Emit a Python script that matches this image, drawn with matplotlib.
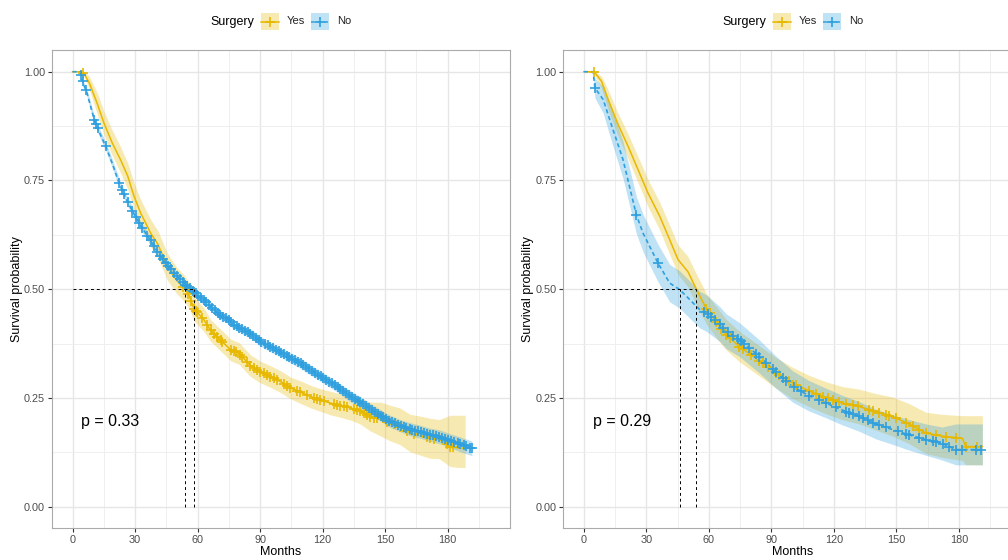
import numpy as np
import matplotlib
matplotlib.use('Agg')
import matplotlib.pyplot as plt
from matplotlib.patches import Rectangle
from matplotlib.lines import Line2D

plt.rcParams['font.family'] = ['Liberation Sans', 'DejaVu Sans']

YEL = '#E7B800'
BLU = '#2E9FDF'

groups = ['Yes', 'No']
legend_title = 'Surgery'
x_ticks = [0, 30, 60, 90, 120, 150, 180]
y_ticks = [0.00, 0.25, 0.50, 0.75, 1.00]
x_label = 'Months'
y_label = 'Survival probability'

# ---------------- Left panel ----------------
L_yes_t = [0, 4.5, 5.6, 8, 12, 15, 19, 23, 26.5, 29.5, 32.7, 37.5, 41, 45.5, 50, 54, 56, 58.3, 63, 66.3,
           69.5, 76, 80, 85.4, 90, 95, 100, 104.6, 110, 114.2, 119, 123.8, 128, 133.4, 138, 142.9, 148,
           152.5, 157, 162.1, 167, 171.7, 176, 181.3, 185, 188.5]
L_yes_s = [1, 1, 0.995, 0.975, 0.925, 0.883, 0.837, 0.798, 0.76, 0.714, 0.675, 0.629, 0.603, 0.552, 0.52,
           0.5, 0.485, 0.455, 0.43, 0.405, 0.39, 0.36, 0.352, 0.324, 0.31, 0.299, 0.287, 0.273, 0.262,
           0.253, 0.245, 0.238, 0.233, 0.227, 0.22, 0.207, 0.2, 0.192, 0.185, 0.169, 0.163, 0.157, 0.155,
           0.138, 0.135, 0.134]
L_yes_hi = [1, 1, 1.0, 0.99, 0.95, 0.91, 0.866, 0.828, 0.79, 0.745, 0.706, 0.66, 0.634, 0.583, 0.55, 0.53,
            0.514, 0.483, 0.457, 0.43, 0.415, 0.385, 0.377, 0.349, 0.335, 0.324, 0.312, 0.298, 0.288,
            0.279, 0.271, 0.265, 0.26, 0.255, 0.25, 0.24, 0.24, 0.233, 0.227, 0.212, 0.208, 0.203, 0.2,
            0.21, 0.21, 0.21]
L_yes_lo = [1, 1, 0.99, 0.96, 0.90, 0.855, 0.808, 0.768, 0.73, 0.683, 0.644, 0.598, 0.572, 0.521, 0.49,
            0.47, 0.456, 0.427, 0.403, 0.38, 0.365, 0.335, 0.327, 0.299, 0.285, 0.274, 0.262, 0.248,
            0.236, 0.227, 0.219, 0.211, 0.206, 0.199, 0.19, 0.174, 0.162, 0.151, 0.143, 0.126, 0.118,
            0.111, 0.11, 0.092, 0.09, 0.09]
L_yes_cens = [5.2, 53.0, 55.5, 57.0, 58.3, 59.1, 59.9, 62.3, 64.7, 66.3, 67.9, 69.5, 71.1, 71.9, 75.9,
              77.4, 78.3, 80.6, 81.5, 83.9, 85.4, 87.0, 88.6, 90.2, 91.8, 93.4, 95.0, 96.6, 98.2, 101.4,
              103.0, 104.6, 107.8, 109.4, 112.6, 115.8, 117.4, 119.0, 120.6, 125.3, 127.0, 128.6, 130.2,
              131.8, 134.9, 136.6, 138.1, 139.7, 141.4, 142.9, 144.5, 146.1, 150.9, 154.1, 157.3, 160.5,
              163.7, 170.1, 171.7, 173.3, 179.7, 181.3, 182.8]

L_no_t = [0, 3.5, 5, 7, 10.4, 12, 15.9, 19, 22.3, 26, 28.7, 32.8, 37.5, 40.8, 43.9, 47, 50.3, 53, 56.7,
          58.5, 61.5, 64.7, 68, 71, 74.3, 77, 80.6, 85.4, 90.2, 95, 99.8, 104.6, 109.4, 114, 119, 124,
          128.6, 133, 138.1, 143, 147.7, 152, 157.3, 162, 166.9, 171, 176.5, 181, 186.1, 191.7]
L_no_s = [1, 1, 0.975, 0.95, 0.89, 0.87, 0.829, 0.79, 0.745, 0.705, 0.68, 0.645, 0.612, 0.585, 0.565,
          0.548, 0.529, 0.515, 0.5, 0.494, 0.48, 0.468, 0.452, 0.44, 0.432, 0.42, 0.41, 0.398, 0.38,
          0.367, 0.355, 0.342, 0.33, 0.315, 0.3, 0.285, 0.27, 0.255, 0.24, 0.224, 0.21, 0.197, 0.186,
          0.178, 0.172, 0.166, 0.16, 0.152, 0.143, 0.134]
L_no_hw = [0, 0, 0.006, 0.008, 0.009, 0.009, 0.010, 0.010, 0.010, 0.010, 0.010, 0.010, 0.010, 0.010,
           0.010, 0.010, 0.010, 0.010, 0.010, 0.010, 0.010, 0.010, 0.010, 0.010, 0.010, 0.011, 0.011,
           0.011, 0.011, 0.011, 0.011, 0.012, 0.012, 0.012, 0.012, 0.012, 0.012, 0.013, 0.013, 0.013,
           0.013, 0.014, 0.014, 0.015, 0.015, 0.015, 0.016, 0.016, 0.017, 0.017]
L_no_cens = [3.9, 4.8, 6.4, 10.4, 11.2, 12.0, 15.9, 22.3, 23.9, 24.7, 26.4, 28.7, 30.3, 31.9, 33.5, 35.9,
             37.5, 39.1, 40.7, 42.1, 43.4, 44.8, 46.0, 47.3, 48.9, 50.2, 51.4, 52.8, 54.1, 55.0, 56.3,
             57.9, 59.2, 60.4, 61.8, 63.1, 64.0, 65.5, 66.9, 68.2, 69.6, 70.8, 72.3, 73.5, 74.9, 76.2,
             77.6, 78.8, 80.1, 81.5, 82.9, 84.0, 85.4, 86.8, 88.1, 89.5, 90.7, 92.2, 93.6, 94.8, 96.1,
             97.5, 98.9, 100.2, 101.6, 102.9, 104.1, 105.5, 106.9, 108.3, 109.6, 110.8, 112.2, 113.7,
             115.0, 116.3, 117.8, 119.1, 120.4, 121.9, 123.2, 124.5, 125.9, 127.3, 128.6, 130.0, 131.4,
             132.7, 134.1, 135.5, 136.8, 138.2, 139.6, 141.0, 142.3, 143.7, 145.1, 146.4, 147.9, 149.2,
             150.6, 152.0, 153.4, 154.7, 156.1, 157.6, 159.0, 160.3, 161.8, 163.1, 164.6, 166.0, 167.4,
             168.9, 170.2, 171.7, 173.1, 174.6, 176.0, 177.5, 178.9, 180.4, 181.8, 183.3, 184.8, 186.2,
             187.7, 189.1, 190.6, 191.7]
L_medians = [54.2, 58.2]
L_pval = 'p = 0.33'

# ---------------- Right panel ----------------
R_yes_t = [0, 4.5, 5.3, 8.5, 11.7, 16.4, 21.2, 26, 30.8, 36.4, 41.2, 45.2, 50, 54, 58.8, 65.2, 68.4,
           74.7, 84.3, 92, 100.3, 108, 116.3, 124, 132.3, 140, 148.2, 156, 164.2, 172, 181.7, 183.3, 191.3]
R_yes_s = [1, 1, 0.998, 0.978, 0.936, 0.879, 0.829, 0.775, 0.721, 0.668, 0.614, 0.568, 0.54, 0.5, 0.455,
           0.414, 0.395, 0.368, 0.335, 0.308, 0.284, 0.266, 0.25, 0.238, 0.23, 0.218, 0.207, 0.19, 0.169,
           0.162, 0.157, 0.138, 0.138]
R_yes_hi = [1, 1, 1, 0.99, 0.958, 0.905, 0.857, 0.805, 0.752, 0.70, 0.647, 0.602, 0.575, 0.535, 0.49,
            0.45, 0.43, 0.403, 0.37, 0.343, 0.32, 0.302, 0.287, 0.276, 0.27, 0.26, 0.252, 0.237, 0.217,
            0.212, 0.209, 0.209, 0.209]
R_yes_lo = [1, 1, 0.99, 0.962, 0.912, 0.853, 0.8, 0.745, 0.69, 0.636, 0.58, 0.534, 0.505, 0.465, 0.42,
            0.378, 0.36, 0.333, 0.3, 0.273, 0.248, 0.23, 0.213, 0.2, 0.19, 0.176, 0.162, 0.145, 0.122,
            0.113, 0.106, 0.096, 0.096]
R_yes_cens = [5.0, 58.8, 60.4, 63.6, 66.0, 68.4, 70.0, 74.7, 76.3, 80.3, 84.3, 85.9, 88.3, 92.3, 93.9,
              98.7, 101.9, 108.3, 111.5, 114.7, 117.1, 119.5, 122.7, 125.9, 129.0, 131.4, 137.0, 138.6,
              141.8, 145.0, 146.6, 149.8, 154.6, 157.8, 161.0, 164.2, 169.0, 173.8, 178.6, 183.4, 188.9]

R_no_t = [0, 4.5, 5.3, 9.3, 14, 18.8, 25.2, 28.4, 30.8, 35.6, 41.2, 46, 50, 55.6, 58.8, 65.2, 68.4, 74.7,
          84.3, 92, 100.3, 108, 116.3, 124, 132.3, 140, 148.2, 156, 164.2, 172, 178.6, 191.3]
R_no_s = [1, 1, 0.963, 0.936, 0.867, 0.798, 0.671, 0.629, 0.606, 0.56, 0.514, 0.499, 0.48, 0.453, 0.445,
          0.42, 0.403, 0.384, 0.345, 0.31, 0.276, 0.255, 0.238, 0.222, 0.207, 0.19, 0.177, 0.165, 0.154,
          0.145, 0.131, 0.131]
R_no_hi = [1, 1, 0.985, 0.965, 0.905, 0.84, 0.713, 0.672, 0.649, 0.603, 0.557, 0.542, 0.523, 0.495,
           0.487, 0.46, 0.443, 0.423, 0.383, 0.347, 0.312, 0.29, 0.272, 0.256, 0.241, 0.224, 0.211, 0.2,
           0.19, 0.183, 0.19, 0.19]
R_no_lo = [1, 1, 0.94, 0.905, 0.828, 0.755, 0.628, 0.586, 0.563, 0.517, 0.471, 0.456, 0.437, 0.411,
           0.403, 0.38, 0.363, 0.345, 0.307, 0.273, 0.24, 0.22, 0.204, 0.188, 0.173, 0.156, 0.143, 0.13,
           0.118, 0.107, 0.096, 0.096]
R_no_cens = [5.3, 25.2, 35.6, 57.5, 59.6, 61.2, 62.8, 65.2, 66.8, 69.2, 71.6, 73.9, 75.5, 77.1, 79.5,
             82.7, 84.3, 87.5, 90.7, 92.3, 95.5, 97.1, 101.1, 104.3, 108.3, 113.1, 116.3, 121.1, 125.9,
             127.5, 129.1, 132.2, 133.8, 136.2, 138.6, 141.8, 145.0, 150.6, 154.6, 156.2, 161.0, 164.2,
             167.4, 169.0, 172.2, 175.4, 178.6, 181.7, 188.2, 190.6]
R_medians = [46.0, 54.0]
R_pval = 'p = 0.29'

# ---------------- Drawing ----------------
W, H = 1008, 560
fig = plt.figure(figsize=(W / 100, H / 100), dpi=100)

def px(x, y):
    return x / W, 1 - y / H

ax_w = 458.3 / W
ax_b = 1 - 528.3 / H
ax_h = (528.3 - 50) / H
ax1 = fig.add_axes([51.7 / W, ax_b, ax_w, ax_h])
ax2 = fig.add_axes([563.0 / W, ax_b, ax_w, ax_h])

BLUE_DASH = (0, (2.5, 1.8))


def draw_panel(ax, yes, no, medians, ptxt):
    (yt, ys, ylo, yhi, yc) = yes
    (nt, ns, nlo, nhi, nc) = no
    ax.fill_between(yt, ylo, yhi, color=YEL, alpha=0.3, lw=0, zorder=2)
    ax.fill_between(nt, nlo, nhi, color=BLU, alpha=0.3, lw=0, zorder=2)
    ax.plot(yt, ys, color=YEL, lw=1.1, zorder=3)
    ax.plot(nt, ns, color=BLU, lw=1.2, ls=BLUE_DASH, zorder=3)
    ax.plot(yc, np.interp(yc, yt, ys), ls='none', marker='+', ms=7, mew=1.2, color=YEL, zorder=4)
    ax.plot(nc, np.interp(nc, nt, ns), ls='none', marker='+', ms=7, mew=1.2, color=BLU, zorder=4)
    ax.plot([0, max(medians)], [0.5, 0.5], color='black', lw=0.7, ls=(0, (3, 3)), zorder=5)
    for m in medians:
        ax.plot([m, m], [0, 0.5], color='black', lw=0.7, ls=(0, (3, 3)), zorder=5)
    ax.text(4.3, 0.196, ptxt, ha='left', va='center', fontsize=11.5, color='black')

    ax.set_xlim(-10, 210)
    ax.set_ylim(-0.05, 1.05)
    ax.set_xticks(x_ticks)
    ax.set_xticklabels([str(v) for v in x_ticks])
    ax.set_xticks([15, 45, 75, 105, 135, 165, 195], minor=True)
    ax.set_yticks(y_ticks)
    ax.set_yticklabels(['%.2f' % v for v in y_ticks])
    ax.set_yticks([0.125, 0.375, 0.625, 0.875], minor=True)
    ax.grid(which='major', color='#E6E6E6', lw=1.0)
    ax.grid(which='minor', color='#EFEFEF', lw=0.7)
    ax.set_axisbelow(True)
    ax.tick_params(which='major', length=2.75, width=0.8, color='#333333', labelsize=7.8,
                   labelcolor='#4D4D4D', pad=2)
    ax.tick_params(which='minor', length=0)
    for sp in ax.spines.values():
        sp.set_color('#AAAAAA')
        sp.set_linewidth(0.8)
    ax.set_xlabel(x_label, fontsize=9, labelpad=0.5)
    ax.set_ylabel(y_label, fontsize=9, labelpad=1)


draw_panel(ax1, (L_yes_t, L_yes_s, L_yes_lo, L_yes_hi, L_yes_cens),
           (L_no_t, L_no_s, np.array(L_no_s) - np.array(L_no_hw), np.array(L_no_s) + np.array(L_no_hw), L_no_cens),
           L_medians, L_pval)
draw_panel(ax2, (R_yes_t, R_yes_s, R_yes_lo, R_yes_hi, R_yes_cens),
           (R_no_t, R_no_s, R_no_lo, R_no_hi, R_no_cens),
           R_medians, R_pval)


def draw_legend(x0):
    yc = 21.5
    fig.text(*px(x0, yc), legend_title, ha='left', va='center', fontsize=9, color='black')
    specs = [(x0 + 51, YEL, '-', groups[0]), (x0 + 101, BLU, BLUE_DASH, groups[1])]
    for kx, col, ls, lab in specs:
        x, y = px(kx, yc + 8.5)
        fig.add_artist(Rectangle((x, y), 18 / W, 17 / H, transform=fig.transFigure,
                                 facecolor=col, alpha=0.3, lw=0))
        xa, ya = px(kx, yc)
        xb, _ = px(kx + 18, yc)
        fig.add_artist(Line2D([xa, xb], [ya, ya], transform=fig.transFigure, color=col, lw=1.1, ls=ls))
        xm, _ = px(kx + 9, yc)
        fig.add_artist(Line2D([xm], [ya], transform=fig.transFigure, color=col, marker='+',
                              ms=7, mew=1.2, ls='none'))
        fig.text(*px(kx + 26, yc), lab, ha='left', va='center', fontsize=8, color='#222222')


draw_legend(210)
draw_legend(722)

fig.savefig('out.png', dpi=100)
